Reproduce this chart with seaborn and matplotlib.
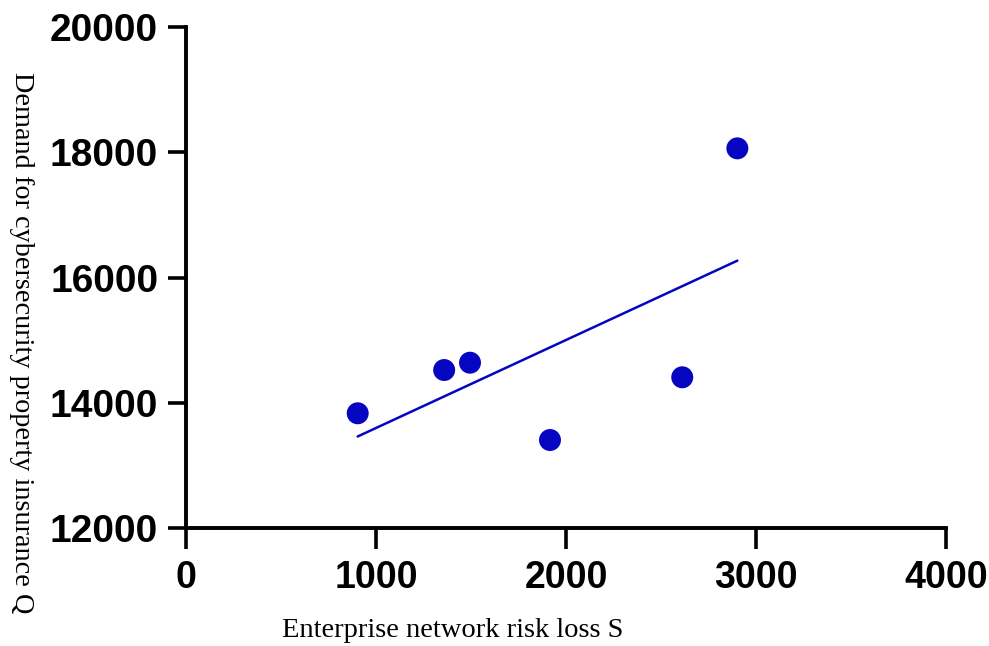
import matplotlib
matplotlib.use("Agg")
import matplotlib.pyplot as plt
import seaborn as sns
import pandas as pd
import numpy as np

# Data
risk_loss_S = [904, 1359, 1495, 1916, 2612, 2902]
demand_Q = [13832, 14523, 14640, 13405, 14407, 18064]
x_ticks = [0, 1000, 2000, 3000, 4000]
y_ticks = [12000, 14000, 16000, 18000, 20000]

df = pd.DataFrame({"S": risk_loss_S, "Q": demand_Q})

sns.set_theme(style="ticks")
plt.rcParams['font.family'] = ['Liberation Sans', 'DejaVu Sans']
plt.rcParams['text.color'] = 'black'

fig = plt.figure(figsize=(9.89, 6.46), dpi=100)
ax = fig.add_axes([0.188, 0.1827, 0.7685, 0.7753])

color = "#0505C2"
sns.regplot(data=df, x="S", y="Q", ax=ax, ci=None, truncate=True,
            scatter_kws=dict(s=250, color=color, edgecolor="none", alpha=1, zorder=3),
            line_kws=dict(color=color, lw=1.8, zorder=2))

ax.set_xlim(0, 4000)
ax.set_ylim(12000, 20000)
ax.set_xticks(x_ticks)
ax.set_yticks(y_ticks)
ax.set_xticklabels([str(t) for t in x_ticks], fontsize=27, fontweight="bold", color="black")
ax.set_yticklabels([str(t) for t in y_ticks], fontsize=28, fontweight="bold", color="black")
ax.tick_params(axis="x", direction="out", length=15, width=2.6, color="black", pad=8)
ax.tick_params(axis="y", direction="out", length=13, width=2.6, color="black", pad=7)

for side in ["top", "right"]:
    ax.spines[side].set_visible(False)
for side in ["left", "bottom"]:
    ax.spines[side].set_linewidth(2.8)
    ax.spines[side].set_color("black")

ax.set_xlabel("")
ax.set_ylabel("")
fig.text(0.458, 0.004, "Enterprise network risk loss S", fontsize=20.5, color="black",
         family=["Liberation Serif", "DejaVu Serif"], ha="center", va="bottom")
fig.text(0.022, 0.47, "Demand for cybersecurity property insurance Q", fontsize=20.3, color="black",
         family=["Liberation Serif", "DejaVu Serif"], rotation=-90, ha="center", va="center")

fig.savefig("out.png", dpi=100, facecolor="white")
